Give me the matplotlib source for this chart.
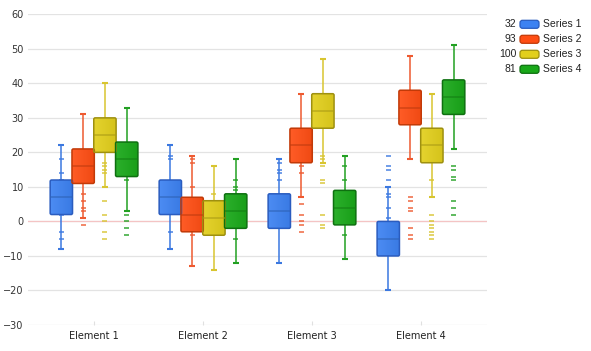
import numpy as np
import matplotlib
matplotlib.use("Agg")
import matplotlib.pyplot as plt
from matplotlib.patches import FancyBboxPatch
from matplotlib.colors import to_rgb

categories = ["Element 1", "Element 2", "Element 3", "Element 4"]
series_names = ["Series 1", "Series 2", "Series 3", "Series 4"]
legend_counts = ["32", "93", "100", "81"]

s1_q1 = [2, 2, -2, -10]
s1_med = [7, 7, 3, -5]
s1_q3 = [12, 12, 8, 0]
s1_lo = [-8, -8, -12, -20]
s1_hi = [22, 22, 18, 10]
s1_pts = [[22, 18, 14, 12, 11, 6, 5, 3, 2, -3, -5, -8],
          [22, 19, 18, 11, 10, 3, -3, -8],
          [18, 17, 15, 14, 12, 4, 2, -1, -12],
          [19, 16, 15, 12, 10, 8, 7, 4, 1, -4, -20]]

s2_q1 = [11, -3, 17, 28]
s2_med = [16, 2, 22, 33]
s2_q3 = [21, 7, 27, 38]
s2_lo = [1, -13, 7, 18]
s2_hi = [31, 19, 37, 48]
s2_pts = [[31, 12, 11, 8, 6, 4, 3, 1, -1],
          [19, 18, 17, 10, 0, -4, -13],
          [37, 19, 18, 16, 14, 7, 5, 2, 0, -1, -3],
          [48, 18, 7, 6, 4, 3, -2, -4, -5]]

s3_q1 = [20, -4, 27, 17]
s3_med = [25, 1, 32, 22]
s3_q3 = [30, 6, 37, 27]
s3_lo = [10, -14, 17, 7]
s3_hi = [40, 16, 47, 37]
s3_pts = [[40, 17, 16, 15, 14, 10, 6, 2, 0, -3, -5],
          [16, 8, 5, 4, -1, -2, -14],
          [47, 19, 18, 16, 12, 11, 2, -1, -2],
          [37, 18, 12, 7, 2, 0, -1, -2, -3, -4, -5]]

s4_q1 = [13, -2, -1, 31]
s4_med = [18, 3, 4, 36]
s4_q3 = [23, 8, 9, 41]
s4_lo = [3, -12, -11, 21]
s4_hi = [33, 18, 19, 51]
s4_pts = [[33, 19, 17, 16, 15, 12, 3, 2, 0, -2, -4],
          [18, 12, 10, 9, 1, 0, -5, -12],
          [19, 16, 12, 2, -4, -11],
          [51, 16, 15, 13, 12, 6, 4, 2]]

series = [
    (s1_q1, s1_med, s1_q3, s1_lo, s1_hi, s1_pts),
    (s2_q1, s2_med, s2_q3, s2_lo, s2_hi, s2_pts),
    (s3_q1, s3_med, s3_q3, s3_lo, s3_hi, s3_pts),
    (s4_q1, s4_med, s4_q3, s4_lo, s4_hi, s4_pts),
]
colors = ["#3d82f2", "#ff4e14", "#e2cf1c", "#19a819"]
edges = ["#2a5cbf", "#c23a08", "#9e9010", "#0e7010"]
line_cols = ["#3b78e0", "#ee5a30", "#d8c530", "#22a022"]

W, H = 591, 351
fig = plt.figure(figsize=(W / 100, H / 100), dpi=100)
ax_l, ax_r, ax_t, ax_b = 28, 487, 14.3, 325
ax = fig.add_axes([ax_l / W, 1 - ax_b / H, (ax_r - ax_l) / W, (ax_b - ax_t) / H])
ax.set_xlim(0.394, 4.606)
ax.set_ylim(-30, 60)
for s in ax.spines.values():
    s.set_visible(False)
ax.set_yticks(np.arange(-30, 61, 10))
ax.grid(axis="y", color="#e3e3e3", linewidth=0.9)
ax.set_axisbelow(True)
ax.axhline(0, color="#f4c4c4", linewidth=0.9, zorder=1)
ax.tick_params(axis="y", length=0, pad=3, labelsize=7, labelcolor="#333333")
ax.set_xticks(range(1, 5))
ax.set_xticklabels(categories)
ax.tick_params(axis="x", length=3, direction="in", color="#e0e0e0", pad=4,
               labelsize=7, labelcolor="#222222")

px_x = (4.606 - 0.394) / (ax_r - ax_l)
px_y = 90 / (ax_b - ax_t)
bw = 0.205
cap = 0.045
offsets = [-0.3, -0.1, 0.1, 0.3]

def lighten(c, f):
    r = np.array(to_rgb(c))
    return tuple(r + (1 - r) * f)

def darken(c, f):
    r = np.array(to_rgb(c))
    return tuple(r * (1 - f))

for si, (q1, med, q3, lo, hi, pts) in enumerate(series):
    col = colors[si]
    lc = line_cols[si]
    for ci in range(4):
        x = ci + 1 + offsets[si]
        # whiskers
        ax.plot([x, x], [q3[ci], hi[ci]], color=lc, lw=1.1, zorder=2)
        ax.plot([x, x], [lo[ci], q1[ci]], color=lc, lw=1.1, zorder=2)
        for yv in (hi[ci], lo[ci]):
            ax.plot([x - cap / 2 - 0.005, x + cap / 2 + 0.005], [yv, yv], color=lc, lw=1.5,
                    solid_capstyle="butt", zorder=3)
        # points as dashes
        for p in pts[ci]:
            ax.plot([x - cap / 2, x + cap / 2], [p, p], color=lc, lw=1.2, alpha=0.85,
                    solid_capstyle="butt", zorder=3)
        # box
        patch = FancyBboxPatch((x - bw / 2, q1[ci]), bw, q3[ci] - q1[ci],
                               boxstyle="round,pad=0,rounding_size=%f" % (1.5 * px_x),
                               mutation_aspect=px_y / px_x,
                               facecolor="none", edgecolor=edges[si], lw=1.1, zorder=5)
        ax.add_patch(patch)
        grad = np.linspace(0, 1, 50)
        cl = np.array(lighten(col, 0.08))
        cr = np.array(darken(col, 0.06))
        img = (cl[None, :] * (1 - grad[:, None]) + cr[None, :] * grad[:, None])[None, :, :]
        im = ax.imshow(img, extent=(x - bw / 2, x + bw / 2, q1[ci], q3[ci]),
                       aspect="auto", zorder=4, interpolation="bilinear")
        im.set_clip_path(patch)
        ax.plot([x - bw / 2, x + bw / 2], [med[ci], med[ci]], color=darken(col, 0.25),
                lw=1.4, alpha=0.55, zorder=6, solid_capstyle="butt")

ax.set_xlim(0.394, 4.606)
ax.set_ylim(-30, 60)

# legend
rows = [24.3, 39.3, 54.3, 69.3]
for i in range(4):
    yc = 1 - rows[i] / H
    fig.text(516.5 / W, yc, legend_counts[i], ha="right", va="center",
             fontsize=7.5, family="Liberation Sans", color="#222222")
    sw = FancyBboxPatch((520 / W, (H - rows[i] - 4) / H), 19 / W, 8 / H,
                        boxstyle="round,pad=0,rounding_size=%f" % (2.5 / W),
                        mutation_aspect=W / H,
                        transform=fig.transFigure, facecolor=colors[i],
                        edgecolor=edges[i], lw=0.9)
    fig.patches.append(sw)
    fig.text(543 / W, yc, series_names[i], ha="left", va="center",
             fontsize=7.5, family="Liberation Sans", color="#222222")

fig.savefig("out.png", dpi=100)
